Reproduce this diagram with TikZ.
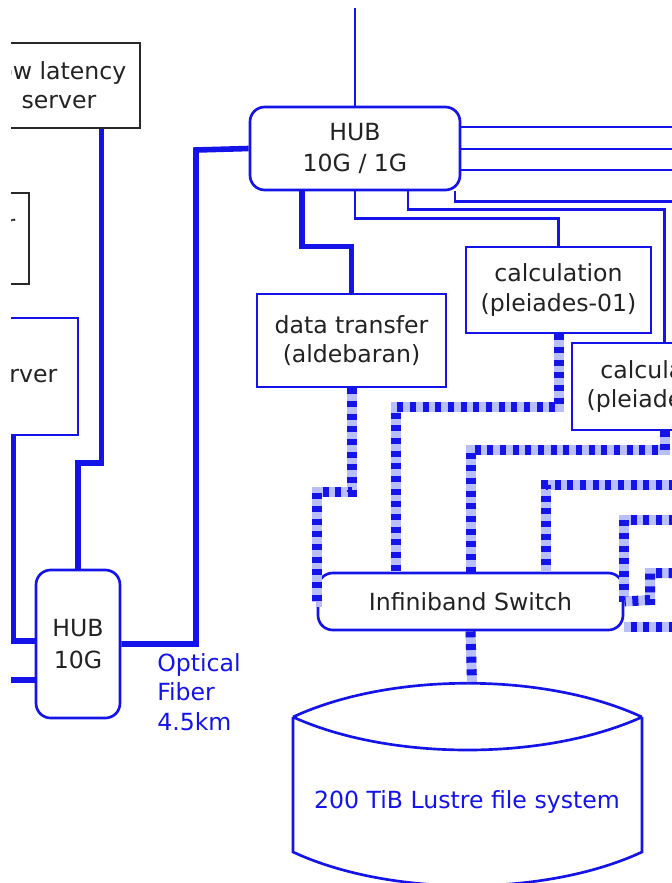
\documentclass[tikz,border=0pt]{standalone}
\usepackage{fontspec}
\setmainfont{DejaVu Sans}
\usetikzlibrary{calc}
\definecolor{netblue}{RGB}{20,20,232}
\definecolor{ibgap}{RGB}{185,190,252}
\definecolor{ink}{RGB}{34,34,34}
\definecolor{frame}{RGB}{40,40,40}

\begin{document}
\begin{tikzpicture}[x=0.75pt,y=-0.75pt,
  lbl/.style={font=\fontsize{17.7}{22}\selectfont, text=ink, align=center},
  box/.style={lbl, draw=netblue, line width=2pt, rectangle, inner sep=0pt},
  blackbox/.style={lbl, draw=frame, line width=2pt, rectangle, inner sep=0pt},
  hubbox/.style={box, rounded corners=11pt, font=\fontsize{17.7}{23.5}\selectfont},
  link/.style={draw=netblue, line width=2.1pt},
  fiber/.style={draw=netblue, line width=4.2pt},
  ibline/.style={draw=netblue, line width=7.5pt, dash pattern=on 4.5pt off 5pt,
    preaction={draw=ibgap, solid, line width=7.5pt}},
]
\useasboundingbox (0,0) rectangle (672,883);
\clip (11,0) rectangle (672,883);

% ---------- nodes ----------
\node[blackbox, minimum width=121.5pt, minimum height=63.75pt] (lls) at (59,85.5) {low latency\\server};
\node[blackbox, minimum width=96.75pt, minimum height=68.25pt] (aux) at (-35.5,238.5) {};
\node[lbl, anchor=base east, inner sep=0pt] (auxtxt) at (15.5,232) {r};
\node[box, minimum width=87pt, minimum height=87.75pt] (srv) at (20,376.5) {server};
\node[hubbox, minimum width=63pt, minimum height=111pt] (hub10) at (78,644) {HUB\\10G};
\node[hubbox, minimum width=157.5pt, minimum height=62.25pt] (hub1) at (355,148.5) {HUB\\10G / 1G};
\node[box, minimum width=141.75pt, minimum height=69.75pt] (dt) at (351.5,340.5) {data transfer\\(aldebaran)};
\node[box, minimum width=138.75pt, minimum height=64.5pt] (c1) at (558.5,290) {calculation\\(pleiades-01)};
\node[box, minimum width=138.75pt, minimum height=65.25pt] (c2) at (664.5,386.5) {calculation\\(pleiades-02)};
\node[hubbox, minimum width=228.75pt, minimum height=42.75pt] (ib) at (470.5,601.5) {Infiniband Switch};
\node[lbl, text=netblue, align=left, anchor=west, inner sep=0pt] (fibertxt) at (157,692) {Optical\\Fiber\\4.5km};

% ---------- storage cylinder ----------
\coordinate (cyltop) at (472,683);
\draw[netblue, line width=2pt]
  (293,717) .. controls (390,672) and (545,672) .. (642,717)
  (293,717) .. controls (390,761) and (545,761) .. (642,717)
  (293,717) -- (293,852) .. controls (390,897) and (545,897) .. (642,852) -- (642,717);
\node[lbl, text=netblue] (lustre) at (467,802) {200 TiB Lustre file system};

% ---------- free ends ----------
\coordinate (uplink) at (355,8);
\coordinate (inA) at (-20,641);
\coordinate (inB) at (-20,680);
\coordinate (bend1) at (196,150);

% ---------- long-haul / 10G links ----------
\draw[fiber] (lls.south east) ++(-40,0) |- (78,463) -- (hub10.north);
\draw[fiber] (srv.south -| 13,0) |- (hub10.west |- inA);
\draw[fiber] (inA) -- (hub10.west |- inA);
\draw[fiber] (inB) -- (hub10.west |- inB);
\draw[fiber] (hub10.east) -| (bend1) -- (hub1.west);
\draw[fiber] ($(hub1.south)+(-53,0)$) -- ++(0,55) -| (dt.north);

% ---------- 1G links ----------
\draw[link] (hub1.north) -- (uplink);
\draw[link] (hub1.east) ++(0,-21.5) -- ++(260,0);
\draw[link] (hub1.east) ++(0,0.5) -- ++(260,0);
\draw[link] (hub1.east) ++(0,21.5) -- ++(260,0);
\draw[link] (hub1.south) -- ++(0,27) -| (c1.north);
\draw[link] ($(hub1.south)+(53,0)$) -- ++(0,18) -| (c2.north);
\draw[link] ($(hub1.south)+(100,0)$) -- ++(0,10) -- ++(260,0);

% ---------- Infiniband links ----------
\draw[ibline] (dt.south) |- (317,492) |- (ib.west);
\draw[ibline] (c1.south) |- (396,407) -- (ib.north -| 396,0);
\draw[ibline] (c2.south) |- (ib.north |- 0,450) -- (ib.north);
\draw[ibline] (700,485) -| (ib.north -| 546,0);
\draw[ibline] (700,520) -| (ib.east);
\draw[ibline] (700,573) -- (650,573) -- (650,600) -- (ib.east);
\draw[ibline] (700,627) -- (ib.east |- 0,627);
\draw[ibline] (ib.south) -- (cyltop);
\end{tikzpicture}
\end{document}
